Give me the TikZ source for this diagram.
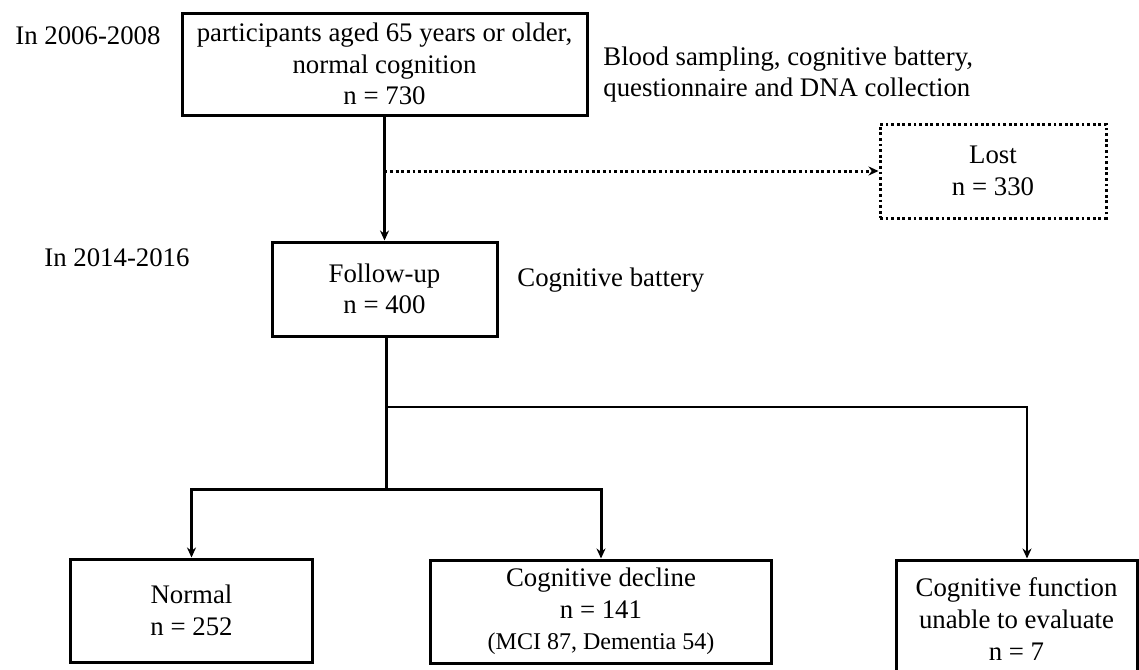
\documentclass[tikz,border=0pt]{standalone}
\usepackage{fontspec}
\setmainfont{Liberation Serif}
\usetikzlibrary{arrows.meta}
\begin{document}
\begin{tikzpicture}[x=0.5pt,y=-0.5pt,
  box/.style={draw,line width=1.5pt,inner sep=0pt,align=center,font=\fontsize{13.4}{15.8}\selectfont},
  lbl/.style={inner sep=0pt,align=left,anchor=west,font=\fontsize{13.4}{15.8}\selectfont},
  dots/.style={dash pattern=on 1.4pt off 1.4pt},
  tip/.style={-{Stealth[length=5pt,width=4.5pt]}},
  conn/.style={line width=1.5pt,tip},
  thinconn/.style={line width=0.8pt,tip}]
\useasboundingbox (0,0) rectangle (1139,669);
\begin{scope}
\clip (0,0) rectangle (1139,669);
\node[box, minimum width=202.5pt, minimum height=51pt] (top) at (384.5,64) {participants aged 65 years or older,\\normal cognition\\n = 730};
\node[box, minimum width=113pt, minimum height=47pt, dots] (lost) at (993,171) {Lost\\n = 330};
\node[box, minimum width=112.5pt, minimum height=47pt] (fu) at (384.5,289) {Follow-up\\n = 400};
\node[box, minimum width=121pt, minimum height=51.5pt] (norm) at (191.5,610.5) {Normal\\n = 252};
\node[box, minimum width=170.5pt, minimum height=51.5pt] (dec) at (601,611.5) {Cognitive decline\\n = 141\\{\fontsize{12}{14}\selectfont (MCI 87, Dementia 54)}};
\node[box, minimum width=120.5pt, minimum height=59pt] (una) at (1016.5,619) {Cognitive function\\unable to evaluate\\n = 7};
\end{scope}
\node[lbl] (t1) at (15,36) {In 2006-2008};
\node[lbl] (t2) at (44,258) {In 2014-2016};
\node[lbl] (b1) at (603,74.5) {Blood sampling, cognitive battery,\\questionnaire and DNA collection};
\node[lbl] (b2) at (517,280) {Cognitive battery};
\coordinate (j1) at (fu.north |- lost.west);
\coordinate (j2) at (386,407);
\coordinate (j3) at (386,489);
\coordinate (j4) at (1027,407);
\draw[conn] (top.south -| fu.north) -- (fu.north);
\draw[line width=1.5pt,dots,tip] (j1) -- (lost.west);
\draw[line width=1.5pt] (fu.south -| j3) -- (j3);
\draw[thinconn] (j2) -- (j4) -- (j4 |- una.north);
\draw[conn] (j3) -| (norm.north);
\draw[conn] (j3) -| (dec.north);
\end{tikzpicture}
\end{document}
